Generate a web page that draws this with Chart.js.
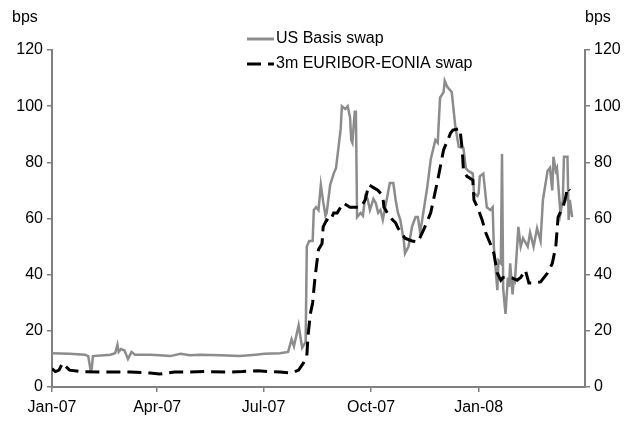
<!DOCTYPE html>
<html>
<head>
<meta charset="utf-8">
<script src="https://cdn.jsdelivr.net/npm/chart.js@4.4.1/dist/chart.umd.min.js"></script>
<style>
  html, body { margin: 0; padding: 0; background: #fff; }
  #wrap { width: 625px; height: 421px; }
</style>
</head>
<body>
<div id="wrap"><canvas id="basisChart" width="625" height="421"></canvas></div>
<script>
// x values are days since 1 Jan 2007
const tickDays = [0, 90, 181, 273, 365];
const tickLabels = ['Jan-07', 'Apr-07', 'Jul-07', 'Oct-07', 'Jan-08'];
const yTicks = [0, 20, 40, 60, 80, 100, 120];

const seriesNames = ['US Basis swap', '3m EURIBOR-EONIA swap'];

const usDays = [0, 15, 28, 31, 33, 34, 35, 50, 54, 56, 57, 59, 62, 65, 68, 71, 84, 92, 101, 110, 118, 127, 144, 161, 174, 182, 195,
  202, 205, 207, 211, 214, 217, 218, 220, 223, 224, 226, 228, 230, 232, 234, 235, 238, 241, 243, 245, 247, 248, 251, 253, 255, 256,
  257, 259, 260, 261, 264, 266, 268, 270, 272, 275, 277, 279, 281, 283, 286, 289, 292, 294, 296, 298, 301, 302, 305, 308, 311,
  313, 315, 318, 321, 324, 328, 330, 332, 335, 336, 338, 342, 343, 345, 348, 352, 354, 356, 360, 361, 364, 365, 366, 369, 372,
  375, 377, 378, 379, 381, 382, 384, 385, 386, 388, 390, 391, 392, 394, 395, 396, 399, 401, 403, 407, 409, 412, 415, 418, 420,
  424, 426, 428, 429, 431, 432, 435, 437, 438, 441, 442, 443, 445];
const usValues = [12, 11.8, 11.5, 11, 6, 6.5, 11, 11.5, 12, 15, 12.5, 13.5, 13, 10, 12.5, 11.5, 11.5, 11.3, 11, 11.8, 11.3, 11.5, 11.3, 11, 11.5, 11.8, 12,
  12.5, 17, 14.5, 22, 14, 16, 50, 52, 52, 63, 64, 63, 72, 66, 61, 62, 72, 76, 78, 85, 92, 100, 99, 100, 96, 88,
  87, 98, 98, 60.5, 62, 61, 68, 67, 63, 67, 65.5, 62, 63, 59.5, 66, 72.6, 72.6, 66.6, 62, 59.5, 52, 47.6, 50, 57, 60.5,
  60.5, 55, 63, 71, 81, 88, 87, 103, 105, 109, 107, 105, 101, 93, 85.5, 85, 78, 77, 76, 69, 68, 69, 75, 76, 64,
  63, 64, 50, 45, 34.5, 45, 44, 83, 35, 26, 39, 35.6, 44, 33, 38, 37.5, 57, 50, 53, 50, 55, 50, 56.5, 52, 66.6,
  77, 78, 70, 82, 77, 78, 62, 66.6, 82, 82, 59.5, 66.6, 60.5];

const euDays = [0, 3, 6, 9, 15, 24, 41, 67, 84, 92, 105, 118, 131, 148, 163, 176, 184, 195, 205, 211, 215, 218, 219, 221, 223, 225,
  228, 231, 232, 235, 238, 241, 244, 249, 255, 261, 264, 268, 271, 275, 279, 283, 284, 289, 294, 296, 302, 308, 313, 318, 324,
  330, 335, 341, 343, 349, 351, 352, 355, 360, 361, 364, 368, 371, 375, 378, 381, 384, 386, 390, 394, 398, 401, 405, 408, 412,
  418, 424, 428, 431, 433, 437, 439, 441, 443];
const euValues = [6.5, 5.5, 6, 8.5, 6, 5.5, 5.3, 5.3, 5, 4.6, 5.3, 5.3, 5.5, 5.3, 5.5, 5.8, 5.5, 5.3, 5, 6, 8.5, 11, 18, 26, 30, 39,
  49, 51, 57, 59.5, 59, 62, 62, 65.5, 64, 64, 64, 66.6, 72, 71, 70, 68, 64, 60.5, 58.4, 56.6, 53, 52, 51.6, 56, 62,
  73.7, 84.4, 90.4, 91.5, 92, 84.4, 77, 75, 73.7, 66.6, 64, 59.5, 55, 51, 47.6, 40.6, 38, 39, 39, 38.8, 38, 39, 41.6, 37, 37,
  37.4, 40.6, 44, 50, 60.5, 64, 66.6, 71, 70];

const FONT = "'Liberation Sans', Arial, sans-serif";
const AXIS_GREY = '#808080';

function toPoints(days, values) {
  return days.map((d, i) => ({ x: d, y: values[i] }));
}

// legend and "bps" labels drawn by hand so they can sit inside the plot
const extrasPlugin = {
  id: 'extras',
  afterDraw(chart) {
    const ctx = chart.ctx;
    const area = chart.chartArea;
    ctx.save();
    ctx.font = '16px ' + FONT;
    ctx.fillStyle = '#000';
    ctx.textBaseline = 'middle';
    ctx.textAlign = 'left';
    ctx.fillText('bps', 12, 18);
    ctx.fillText('bps', area.right, 18);

    const entries = [
      { y: 39, color: '#8c8c8c', dash: [], width: 3 },
      { y: 64, color: '#000', dash: [14, 7], width: 3 }
    ];
    entries.forEach((e, i) => {
      ctx.beginPath();
      ctx.setLineDash(e.dash);
      ctx.lineWidth = e.width;
      ctx.strokeStyle = e.color;
      ctx.moveTo(247, e.y);
      ctx.lineTo(274, e.y);
      ctx.stroke();
      ctx.setLineDash([]);
      ctx.fillText(seriesNames[i], 276, e.y);
    });
    ctx.restore();
  }
};

const yAxisCommon = {
  min: 0,
  max: 120,
  afterBuildTicks: s => { s.ticks = yTicks.map(v => ({ value: v })); },
  grid: { drawOnChartArea: false, drawTicks: true, tickLength: 5, color: AXIS_GREY, lineWidth: 1.5 },
  border: { color: AXIS_GREY, width: 2 },
  ticks: { color: '#000', font: { family: FONT, size: 16 }, padding: 4 }
};

new Chart(document.getElementById('basisChart').getContext('2d'), {
  type: 'line',
  data: {
    datasets: [
      {
        label: seriesNames[0],
        data: toPoints(usDays, usValues),
        borderColor: '#8c8c8c',
        borderWidth: 2.5,
        pointRadius: 0,
        tension: 0,
        order: 2
      },
      {
        label: seriesNames[1],
        data: toPoints(euDays, euValues),
        borderColor: '#000',
        borderWidth: 3,
        borderDash: [14, 7],
        pointRadius: 0,
        tension: 0,
        order: 1
      }
    ]
  },
  options: {
    responsive: false,
    animation: false,
    devicePixelRatio: 1,
    layout: { padding: { top: 50, left: 0, right: 0, bottom: 0 } },
    plugins: {
      legend: { display: false },
      tooltip: { enabled: false },
      title: { display: false }
    },
    scales: {
      x: {
        type: 'linear',
        min: 0,
        max: 456,
        afterBuildTicks: s => { s.ticks = tickDays.map(v => ({ value: v })); },
        afterFit: s => { s.height = 34; },
        grid: { drawOnChartArea: false, drawTicks: true, tickLength: 5, color: AXIS_GREY, lineWidth: 1.5 },
        border: { color: AXIS_GREY, width: 2 },
        ticks: {
          autoSkip: false,
          maxRotation: 0,
          color: '#000',
          font: { family: FONT, size: 16 },
          padding: 6,
          callback: v => tickLabels[tickDays.indexOf(v)]
        }
      },
      y: Object.assign({}, yAxisCommon, {
        position: 'left',
        afterFit: s => { s.width = 52; }
      }),
      y2: Object.assign({}, yAxisCommon, {
        position: 'right',
        afterFit: s => { s.width = 40; }
      })
    }
  },
  plugins: [extrasPlugin]
});
</script>
</body>
</html>
